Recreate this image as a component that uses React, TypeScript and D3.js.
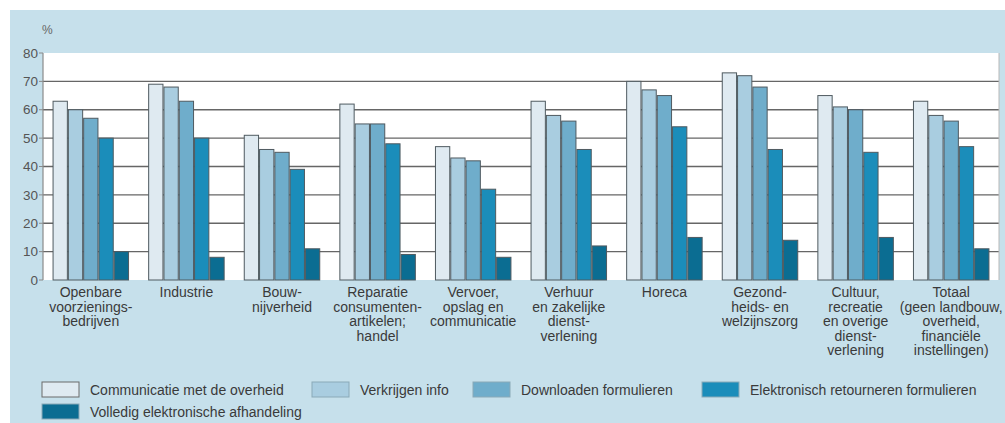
import React from "react";
import * as d3 from "d3";

const categories: string[][] = [
  ["Openbare", "voorzienings-", "bedrijven"],
  ["Industrie"],
  ["Bouw-", "nijverheid"],
  ["Reparatie", "consumenten-", "artikelen;", "handel"],
  ["Vervoer,", "opslag en", "communicatie"],
  ["Verhuur", "en zakelijke", "dienst-", "verlening"],
  ["Horeca"],
  ["Gezond-", "heids- en", "welzijnszorg"],
  ["Cultuur,", "recreatie", "en overige", "dienst-", "verlening"],
  ["Totaal", "(geen landbouw,", "overheid,", "financiële", "instellingen)"],
];

const seriesNames = [
  "Communicatie met de overheid",
  "Verkrijgen info",
  "Downloaden formulieren",
  "Elektronisch retourneren formulieren",
  "Volledig elektronische afhandeling",
];

const communicatie = [63, 69, 51, 62, 47, 63, 70, 73, 65, 63];
const verkrijgenInfo = [60, 68, 46, 55, 43, 58, 67, 72, 61, 58];
const downloaden = [57, 63, 45, 55, 42, 56, 65, 68, 60, 56];
const retourneren = [50, 50, 39, 48, 32, 46, 54, 46, 45, 47];
const volledig = [10, 8, 11, 9, 8, 12, 15, 14, 15, 11];

const yTicks = [0, 10, 20, 30, 40, 50, 60, 70, 80];

const seriesValues = [communicatie, verkrijgenInfo, downloaden, retourneren, volledig];
const colors = ["#dfeaf1", "#a9cde0", "#6fadcb", "#1b8dba", "#0b6d92"];

const W = 1005;
const H = 423;
const plotLeft = 43;
const plotRight = 999;
const plotTop = 53;
const plotBottom = 280;

export default function App() {
  const x0 = d3
    .scaleBand<number>()
    .domain(d3.range(categories.length))
    .range([plotLeft, plotRight])
    .paddingInner(0.2)
    .paddingOuter(0.1);
  const x1 = d3
    .scaleBand<number>()
    .domain(d3.range(seriesValues.length))
    .range([0, x0.bandwidth()])
    .padding(0);
  const y = d3.scaleLinear().domain([0, 80]).range([plotBottom, plotTop]);

  const font = "Liberation Sans, Arial, sans-serif";

  const legendPos = [
    { x: 42, y: 382 },
    { x: 312, y: 382 },
    { x: 473, y: 382 },
    { x: 702, y: 382 },
    { x: 42, y: 404 },
  ];

  return (
    <svg
      width={W}
      height={H}
      style={{ position: "absolute", left: 0, top: 0, display: "block" }}
      fontFamily={font}
    >
      <rect x={0} y={0} width={W} height={H} fill="#ffffff" />
      <rect x={10} y={10} width={W - 10} height={H - 10} fill="#c6e0eb" />
      <rect
        x={plotLeft}
        y={plotTop}
        width={plotRight - plotLeft}
        height={plotBottom - plotTop}
        fill="#ffffff"
      />
      {/* gridlines */}
      {yTicks
        .filter((t) => t > 0 && t < 80)
        .map((t) => (
          <line
            key={"g" + t}
            x1={plotLeft}
            x2={plotRight}
            y1={y(t)}
            y2={y(t)}
            stroke="#666"
            strokeWidth={1.4}
          />
        ))}
      <line x1={plotLeft} x2={plotLeft} y1={plotTop} y2={plotBottom} stroke="#8a8a8a" strokeWidth={1.2} />
      <line x1={plotRight} x2={plotRight} y1={plotTop} y2={plotBottom} stroke="#b8b8b8" strokeWidth={1} />
      {/* y ticks */}
      {yTicks.map((t) => (
        <g key={"t" + t}>
          <line x1={plotLeft - 4} x2={plotLeft} y1={y(t)} y2={y(t)} stroke="#8a8a8a" strokeWidth={1} />
          <text
            x={plotLeft - 5}
            y={y(t)}
            dy="0.35em"
            textAnchor="end"
            fontSize={13.5}
            fill="#555"
          >
            {t}
          </text>
        </g>
      ))}
      <text x={42} y={34} fontSize={12} fill="#666">
        %
      </text>
      {/* bars */}
      {categories.map((_, ci) => (
        <g key={"c" + ci} transform={`translate(${x0(ci)},0)`}>
          {seriesValues.map((vals, si) => (
            <rect
              key={si}
              x={x1(si)! + 0.5}
              y={y(vals[ci])}
              width={x1.bandwidth() - 1}
              height={y(0) - y(vals[ci])}
              fill={colors[si]}
              stroke="#4f5a60"
              strokeWidth={1}
            />
          ))}
        </g>
      ))}
      {/* category labels */}
      {categories.map((lines, ci) => (
        <text
          key={"l" + ci}
          x={x0(ci)! + x0.bandwidth() / 2}
          y={297}
          textAnchor="middle"
          fontSize={14}
          fill="#3a3a3a"
        >
          {lines.map((ln, li) => (
            <tspan key={li} x={x0(ci)! + x0.bandwidth() / 2} dy={li === 0 ? 0 : 14.5}>
              {ln}
            </tspan>
          ))}
        </text>
      ))}
      {/* legend */}
      {seriesNames.map((name, si) => (
        <g key={"lg" + si}>
          <rect
            x={legendPos[si].x}
            y={legendPos[si].y}
            width={37}
            height={15}
            fill={colors[si]}
            stroke={si === 0 ? "#6a6a6a" : "#8aa9b8"}
            strokeWidth={1}
          />
          <text
            x={legendPos[si].x + 48}
            y={legendPos[si].y + 8}
            dy="0.35em"
            fontSize={14}
            fill="#3a3a3a"
          >
            {name}
          </text>
        </g>
      ))}
    </svg>
  );
}
